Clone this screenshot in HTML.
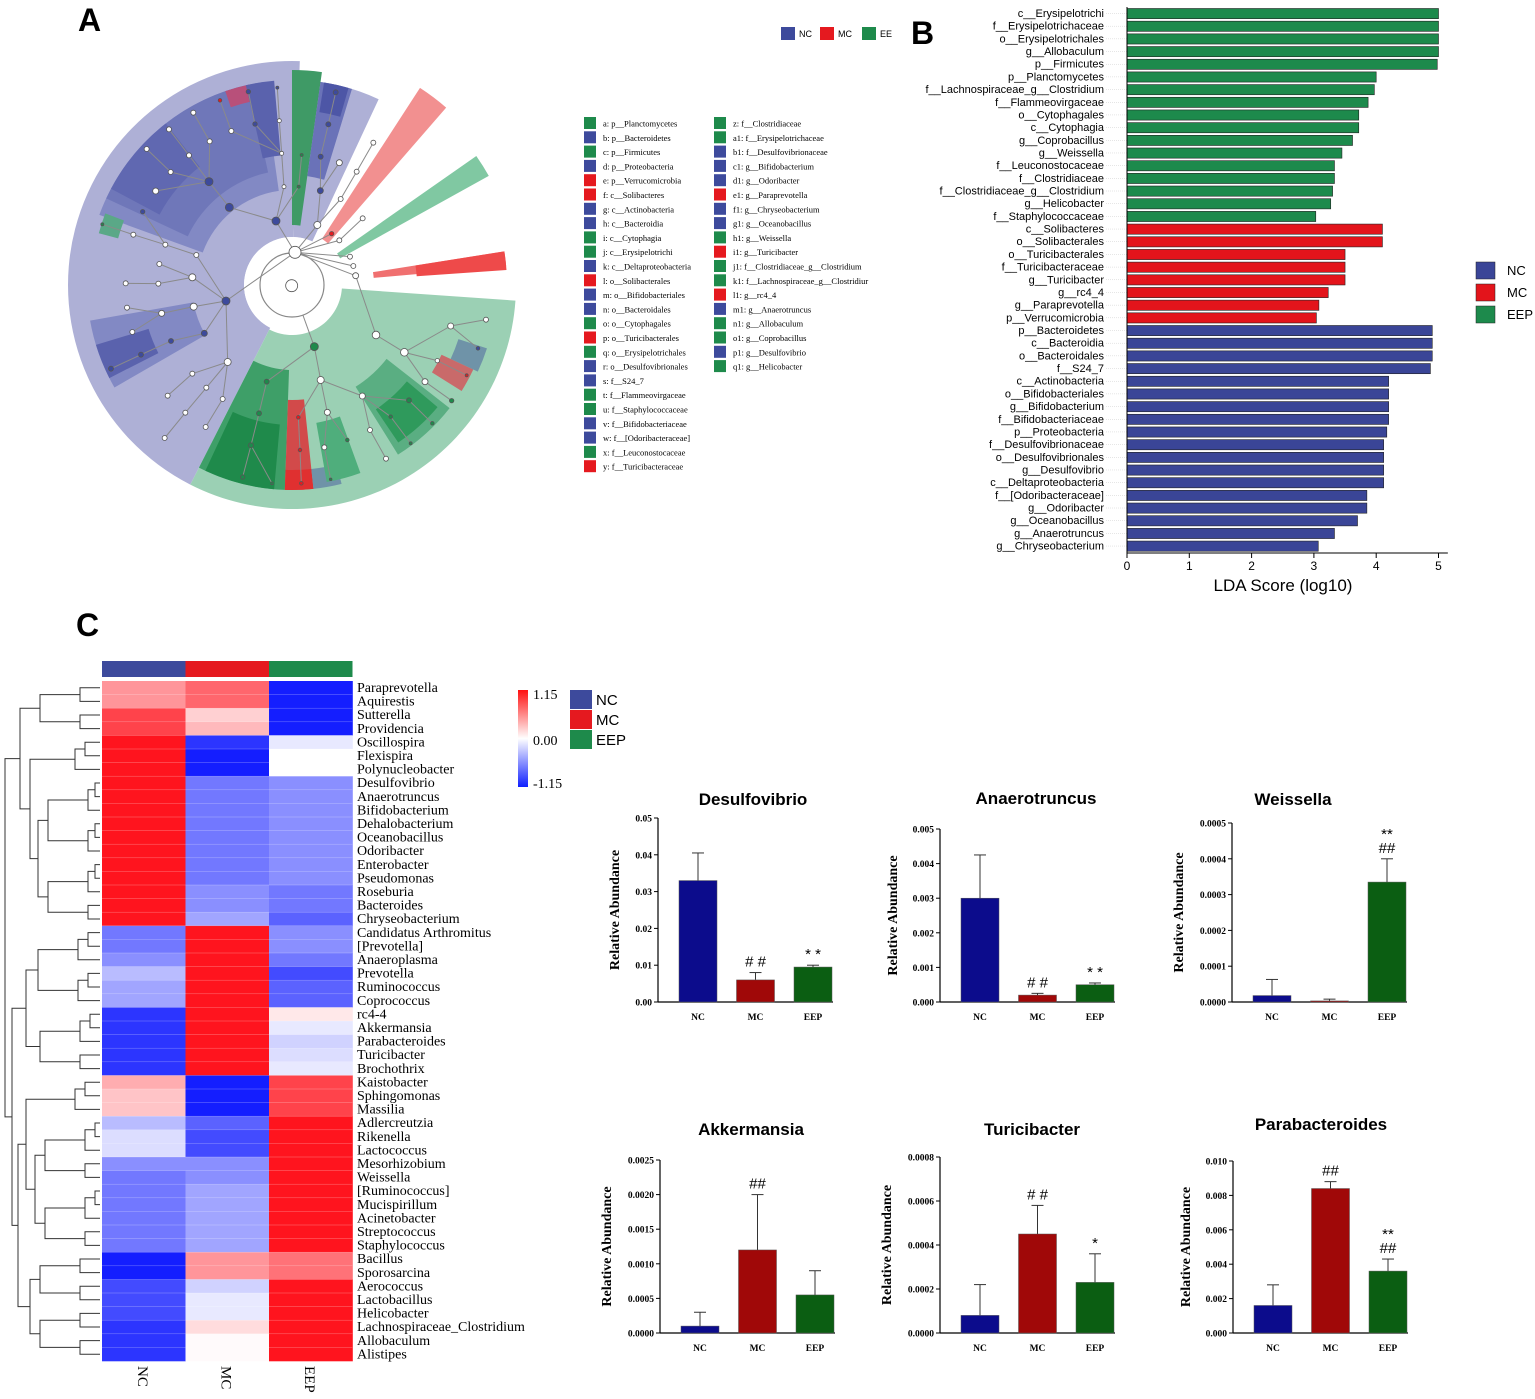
<!DOCTYPE html>
<html><head><meta charset="utf-8">
<style>
body{margin:0;background:#fff;}
svg{display:block;}
</style></head>
<body>
<svg id="fig" width="1535" height="1399" viewBox="0 0 1535 1399" xmlns="http://www.w3.org/2000/svg">
<rect width="1535" height="1399" fill="#fff"/>
<text x="78" y="31" font-family="Liberation Sans, sans-serif" font-size="32" font-weight="bold">A</text>
<text x="911" y="44" font-family="Liberation Sans, sans-serif" font-size="32" font-weight="bold">B</text>
<text x="76" y="636" font-family="Liberation Sans, sans-serif" font-size="32" font-weight="bold">C</text>
<g id="clado"></g>
<g id="cladoLegend"></g>
<g id="lda"></g>
<g id="heat"></g>
<g id="bars"></g>
</svg>
<script>
// ---------- DATA ----------
const ldaLabels = ["c__Erysipelotrichi","f__Erysipelotrichaceae","o__Erysipelotrichales","g__Allobaculum","p__Firmicutes","p__Planctomycetes","f__Lachnospiraceae_g__Clostridium","f__Flammeovirgaceae","o__Cytophagales","c__Cytophagia","g__Coprobacillus","g__Weissella","f__Leuconostocaceae","f__Clostridiaceae","f__Clostridiaceae_g__Clostridium","g__Helicobacter","f__Staphylococcaceae","c__Solibacteres","o__Solibacterales","o__Turicibacterales","f__Turicibacteraceae","g__Turicibacter","g__rc4_4","g__Paraprevotella","p__Verrucomicrobia","p__Bacteroidetes","c__Bacteroidia","o__Bacteroidales","f__S24_7","c__Actinobacteria","o__Bifidobacteriales","g__Bifidobacterium","f__Bifidobacteriaceae","p__Proteobacteria","f__Desulfovibrionaceae","o__Desulfovibrionales","g__Desulfovibrio","c__Deltaproteobacteria","f__[Odoribacteraceae]","g__Odoribacter","g__Oceanobacillus","g__Anaerotruncus","g__Chryseobacterium"];
const ldaScores = [5.0,5.0,5.0,5.0,4.98,4.0,3.97,3.87,3.72,3.72,3.62,3.45,3.33,3.33,3.3,3.27,3.03,4.1,4.1,3.5,3.5,3.5,3.23,3.08,3.04,4.9,4.9,4.9,4.87,4.2,4.2,4.2,4.2,4.17,4.12,4.12,4.12,4.12,3.85,3.85,3.7,3.33,3.07];
const ldaGroups = ["EEP","EEP","EEP","EEP","EEP","EEP","EEP","EEP","EEP","EEP","EEP","EEP","EEP","EEP","EEP","EEP","EEP","MC","MC","MC","MC","MC","MC","MC","MC","NC","NC","NC","NC","NC","NC","NC","NC","NC","NC","NC","NC","NC","NC","NC","NC","NC","NC"];
const ldaTicks = [0,1,2,3,4,5];

const heatRows = ["Paraprevotella","Aquirestis","Sutterella","Providencia","Oscillospira","Flexispira","Polynucleobacter","Desulfovibrio","Anaerotruncus","Bifidobacterium","Dehalobacterium","Oceanobacillus","Odoribacter","Enterobacter","Pseudomonas","Roseburia","Bacteroides","Chryseobacterium","Candidatus Arthromitus","[Prevotella]","Anaeroplasma","Prevotella","Ruminococcus","Coprococcus","rc4-4","Akkermansia","Parabacteroides","Turicibacter","Brochothrix","Kaistobacter","Sphingomonas","Massilia","Adlercreutzia","Rikenella","Lactococcus","Mesorhizobium","Weissella","[Ruminococcus]","Mucispirillum","Acinetobacter","Streptococcus","Staphylococcus","Bacillus","Sporosarcina","Aerococcus","Lactobacillus","Helicobacter","Lachnospiraceae_Clostridium","Allobaculum","Alistipes"];
const heatCols = ["NC","MC","EEP"];
const heatNC = [0.45,0.45,0.8,0.8,1,1,1,1,1,1,1,1,1,1,1,1,1,1,-0.6,-0.6,-0.5,-0.3,-0.4,-0.4,-0.9,-0.9,-0.9,-0.9,-0.9,0.35,0.25,0.25,-0.3,-0.15,-0.15,-0.5,-0.6,-0.6,-0.6,-0.6,-0.6,-0.6,-1,-1,-0.8,-0.8,-0.8,-0.9,-0.9,-0.9];
const heatMC = [0.65,0.65,0.2,0.3,-0.9,-1,-1,-0.6,-0.6,-0.6,-0.6,-0.6,-0.6,-0.6,-0.6,-0.5,-0.5,-0.4,1,1,1,1,1,1,1,1,1,1,1,-1,-1,-1,-0.7,-0.8,-0.8,-0.5,-0.5,-0.4,-0.4,-0.4,-0.4,-0.4,0.45,0.45,-0.2,-0.1,-0.1,0.15,0.02,0.02];
const heatEEP = [-1,-1,-1,-1,-0.1,0,0,-0.5,-0.5,-0.5,-0.5,-0.5,-0.5,-0.5,-0.5,-0.6,-0.6,-0.7,-0.5,-0.5,-0.6,-0.8,-0.7,-0.7,0.1,-0.1,-0.2,-0.15,-0.1,0.8,0.8,0.8,1,1,1,1,1,1,1,1,1,1,0.6,0.6,1,1,1,1,1,1];

const barGroups = ["NC","MC","EEP"];
const desulfoMean = [0.033,0.006,0.0095];
const desulfoErr = [0.0405,0.008,0.0100];
const desulfoTicks = ["0.00","0.01","0.02","0.03","0.04","0.05"];
const anaeroMean = [0.003,0.0002,0.0005];
const anaeroErr = [0.00425,0.00025,0.00055];
const anaeroTicks = ["0.000","0.001","0.002","0.003","0.004","0.005"];
const weissMean = [0.000018,0.000003,0.000335];
const weissErr = [0.000063,0.000008,0.0004];
const weissTicks = ["0.0000","0.0001","0.0002","0.0003","0.0004","0.0005"];
const akkerMean = [0.0001,0.0012,0.00055];
const akkerErr = [0.0003,0.002,0.0009];
const akkerTicks = ["0.0000","0.0005","0.0010","0.0015","0.0020","0.0025"];
const turiMean = [0.00008,0.00045,0.00023];
const turiErr = [0.00022,0.00058,0.00036];
const turiTicks = ["0.0000","0.0002","0.0004","0.0006","0.0008"];
const paraMean = [0.0016,0.0084,0.0036];
const paraErr = [0.0028,0.0088,0.0043];
const paraTicks = ["0.000","0.002","0.004","0.006","0.008","0.010"];

const legendLettersA = ["a: p__Planctomycetes","b: p__Bacteroidetes","c: p__Firmicutes","d: p__Proteobacteria","e: p__Verrucomicrobia","f: c__Solibacteres","g: c__Actinobacteria","h: c__Bacteroidia","i: c__Cytophagia","j: c__Erysipelotrichi","k: c__Deltaproteobacteria","l: o__Solibacterales","m: o__Bifidobacteriales","n: o__Bacteroidales","o: o__Cytophagales","p: o__Turicibacterales","q: o__Erysipelotrichales","r: o__Desulfovibrionales","s: f__S24_7","t: f__Flammeovirgaceae","u: f__Staphylococcaceae","v: f__Bifidobacteriaceae","w: f__[Odoribacteraceae]","x: f__Leuconostocaceae","y: f__Turicibacteraceae"];
const legendGroupsA = ["EEP","NC","EEP","NC","MC","MC","NC","NC","EEP","EEP","NC","MC","NC","NC","EEP","MC","EEP","NC","NC","EEP","EEP","NC","NC","EEP","MC"];
const legendLettersB = ["z: f__Clostridiaceae","a1: f__Erysipelotrichaceae","b1: f__Desulfovibrionaceae","c1: g__Bifidobacterium","d1: g__Odoribacter","e1: g__Paraprevotella","f1: g__Chryseobacterium","g1: g__Oceanobacillus","h1: g__Weissella","i1: g__Turicibacter","j1: f__Clostridiaceae_g__Clostridium","k1: f__Lachnospiraceae_g__Clostridiur","l1: g__rc4_4","m1: g__Anaerotruncus","n1: g__Allobaculum","o1: g__Coprobacillus","p1: g__Desulfovibrio","q1: g__Helicobacter"];
const legendGroupsB = ["EEP","EEP","NC","NC","NC","MC","NC","NC","EEP","MC","EEP","EEP","MC","NC","EEP","EEP","NC","EEP"];

// ---------- helpers ----------
const NS="http://www.w3.org/2000/svg";
function mk(parent, tag, attrs, text){
  const e=document.createElementNS(NS,tag);
  for(const k in attrs) e.setAttribute(k,attrs[k]);
  if(text!==undefined) e.textContent=text;
  parent.appendChild(e); return e;
}
const grpCol={NC:"#3d4a9c",MC:"#e5191f",EEP:"#1e8a4b"};

// ---------- Cladogram ----------
const clado=document.getElementById('clado');
const CX=292, CY=285;
function pol(r,a){const t=a*Math.PI/180;return [CX+r*Math.cos(t),CY+r*Math.sin(t)];}
function sector(r0,r1,a0,a1,fill,op,name){
  const p1=pol(r1,a0),p2=pol(r1,a1),p3=pol(r0,a1),p4=pol(r0,a0);
  const lg=(a1-a0)>180?1:0;
  const d=`M${p1[0]},${p1[1]} A${r1},${r1} 0 ${lg} 1 ${p2[0]},${p2[1]} L${p3[0]},${p3[1]} A${r0},${r0} 0 ${lg} 0 ${p4[0]},${p4[1]}Z`;
  const e=mk(clado,'path',{d:d,fill:fill,'fill-opacity':op});
  
  
}
sector(48,224,117,272,"#aeb0d6",1,"nc-clade-bg");
sector(48,205,272,295,"#aeb0d6",1,"nc-clade-bg-2");
sector(50,224,4,117,"#9bd0b4",1,"eep-clade-bg");
sector(95,205,200,262,"#8289c4",1,"nc-subclade");
sector(115,205,205,258,"#6f77b9",1,"nc-subclade-mid");
sector(150,205,208,232,"#6068b1",1,"nc-s-clade");
sector(188,205,251,258,"#b8507a",1,"mc-e1");
sector(130,205,257,265,"#5a62ad",1,"nc-w");
sector(60,215,270,278,"#3f9a66",1,"eep-f1");
sector(110,205,278,287,"#6a72b8",1,"nc-c1");
sector(175,205,279,286,"#4d56a6",1,"nc-c1-dark");
sector(180,200,195,201,"#5aa887",1,"eep-q1");
sector(100,205,150,170,"#8289c4",1,"nc-k");
sector(150,205,153,163,"#5a62ad",1,"nc-p1");
sector(55,235,-57,-49,"#f29090",1,"mc-e");
sector(55,225,-35,-29,"#80c8a2",1,"eep-a");
sector(82,215,-9,-5,"#f07070",1,"mc-f");
sector(125,215,-9,-4,"#ee4a4a",1,"mc-l");
sector(85,205,92,117,"#3e9f68",1,"eep-b");
sector(140,205,95,115,"#1f8a4b",1,"eep-n1");
sector(115,205,84,92,"#d24a4a",1,"mc-p");
sector(185,205,84,92,"#e03030",1,"mc-i1");
sector(185,205,76,84,"#6f93a8",1,"nc-g1");
sector(140,200,70,80,"#4fae7c",1,"eep-u");
sector(120,200,38,58,"#5aae82",1,"eep-z");
sector(150,190,40,56,"#2f9a5c",1,"eep-x");
sector(175,205,18,25,"#6f93a8",1,"nc-m1");
sector(165,200,25,32,"#c96a6a",1,"mc-l1");
mk(clado,'circle',{cx:CX,cy:CY,r:48,fill:"#fff"});
mk(clado,'circle',{cx:CX,cy:CY,r:32,fill:"none",stroke:"#888","stroke-width":1.2});
// nodes in original image coordinates (from 3x zoom: x=60+zx/3, y=40+zy/3)
const zNodes=[
 [695,737,6,"#fff"],[705,637,6,"#fff"],
 [648,543,4,"#3d4a9c"],[508,502,4,"#3d4a9c"],[447,425,4,"#3d4a9c"],[498,783,4,"#3d4a9c"],[763,920,4,"#1e8a4b"],
 [772,555,3.5,"#fff"],[948,885,3.8,"#fff"],[1033,937,3.8,"#fff"],[782,1020,3.5,"#fff"],[802,1117,3,"#fff"],[907,1068,3,"#fff"],[1095,1025,3,"#fff"],[1172,858,3,"#fff"],
 [397,712,3.5,"#fff"],[401,800,3.5,"#fff"],[503,966,3.5,"#fff"],[287,453,3,"#fff"],[332,396,2.5,"#fff"],[449,304,2.5,"#fff"],[514,273,2.5,"#fff"],[387,346,2.5,"#fff"],[327,268,2.5,"#fff"],[260,327,2.5,"#fff"],[400,218,2.5,"#fff"],
 [305,820,3,"#fff"],[295,731,2.5,"#fff"],[298,672,2.5,"#fff"],[220,584,2.5,"#fff"],[316,614,2.5,"#fff"],[409,645,2.5,"#fff"],[197,730,2.5,"#fff"],[201,803,2.5,"#fff"],[217,876,2.5,"#fff"],
 [397,1001,2.5,"#fff"],[439,1043,2.5,"#fff"],[488,1077,2.5,"#fff"],[323,1067,2.5,"#fff"],[376,1118,2.5,"#fff"],[437,1161,2.5,"#fff"],[314,1194,2.5,"#fff"],
 [842,477,2.5,"#fff"],[890,395,2.5,"#fff"],[940,308,2.5,"#fff"],[838,368,3,"#fff"],[908,535,2.5,"#fff"],[838,601,2.5,"#fff"],[870,650,2.5,"#fff"],[880,678,2.5,"#fff"],[887,707,3,"#fff"],
 [672,440,2,"#fff"],[665,340,2,"#fff"],[658,242,2,"#fff"],[1132,962,2.2,"#fff"],[1278,839,2.5,"#fff"],[930,1170,2.5,"#fff"],[978,1256,2.5,"#fff"],[793,1222,2.5,"#fff"],
 [433,880,3,"#3d4a9c"],[333,903,2.5,"#3d4a9c"],[243,944,2.5,"#3d4a9c"],[153,986,2.5,"#3d4a9c"],[248,515,2.2,"#3d4a9c"],[565,155,2.2,"#3d4a9c"],[585,252,2.2,"#3d4a9c"],[827,157,2.5,"#3d4a9c"],[805,253,2.5,"#3d4a9c"],[782,350,2.5,"#3d4a9c"],[781,452,3,"#3d4a9c"],[652,143,1.5,"#3d4a9c"],[1254,925,1.8,"#3d4a9c"],
 [620,1025,2.5,"#1e8a4b"],[597,1120,2.5,"#1e8a4b"],[573,1216,2.5,"#1e8a4b"],[548,1311,2.2,"#1e8a4b"],[725,345,1.5,"#1e8a4b"],[716,440,1.5,"#1e8a4b"],[862,1200,1.8,"#1e8a4b"],[1047,1081,2.5,"#1e8a4b"],[1175,1082,2.2,"#1e8a4b"],[1117,1150,1.8,"#1e8a4b"],[992,1130,1.8,"#1e8a4b"],[1052,1210,1.5,"#1e8a4b"],[127,553,1.5,"#1e8a4b"],[636,1330,1.3,"#1e8a4b"],[812,1318,1.3,"#1e8a4b"],
 [715,1132,1.8,"#e5191f"],[720,1230,1.8,"#e5191f"],[724,1330,1.8,"#e5191f"],[480,181,1.8,"#e5191f"],[815,581,2.2,"#e5191f"],[1220,1006,1.5,"#e5191f"]
];
const nodes=zNodes.map(n=>({x:60+n[0]/3,y:40+n[1]/3,r:n[2],c:n[3]}));
nodes.forEach(n=>{n.rad=Math.hypot(n.x-CX,n.y-CY);n.ang=Math.atan2(n.y-CY,n.x-CX);});
nodes.forEach((n,i)=>{
  if(i===0) return;
  // parent: nearest node with smaller radius
  let best=null,bd=1e9;
  nodes.forEach((m,j)=>{ if(j===i||m.rad>=n.rad-8||j===0) return;
    const d=Math.hypot(m.x-n.x,m.y-n.y); if(d<bd){bd=d;best=m;} });
  let d;
  if(!best||bd>95){const p=pol(32,n.ang*180/Math.PI);d=`M${n.x},${n.y}L${p[0]},${p[1]}`;}
  else d=`M${n.x},${n.y}L${best.x},${best.y}`;
  const l=mk(clado,'path',{d:d,stroke:"#8a8a8a","stroke-width":1,fill:"none"});
  
  
});
nodes.forEach(n=>{
  const c=mk(clado,'circle',{cx:n.x,cy:n.y,r:n.r,fill:n.c,stroke:"#555","stroke-width":0.8});
  
  
});
// top legend A
[["NC",781],["MC",820],["EE",862]].forEach(d=>{
  const r=mk(clado,'rect',{x:d[1],y:27,width:14,height:13,fill:grpCol[d[0]==="EE"?"EEP":d[0]]});
  
  
  const t=mk(clado,'text',{x:d[1]+18,y:37,'font-family':'Liberation Sans, sans-serif','font-size':9},d[0]);
  
  
});
// letter legend
const cl=document.getElementById('cladoLegend');
function legCol(labels,groups,x0){
  labels.forEach((lab,i)=>{
    const y=117+i*14.3;
    const r=mk(cl,'rect',{x:x0,y:y,width:12,height:12,fill:grpCol[groups[i]]});
    
    
    const t=mk(cl,'text',{x:x0+19,y:y+9.5,'font-family':'Liberation Serif, serif','font-size':8.5},lab);
    
    
  });
}
legCol(legendLettersA,legendGroupsA,584);
legCol(legendLettersB,legendGroupsB,714);

// ---------- LDA ----------
const lda=document.getElementById('lda');
const lx0=1127, lpx=62.3, ly0=7, lrow=12.68;
const ldaX=v=>lx0+v*lpx;
const ldaColor={NC:"#3a4597",MC:"#e3141b",EEP:"#1d8a4c"};
ldaLabels.forEach((lab,i)=>{
  const y=ly0+i*lrow;
  const b=mk(lda,'rect',{x:ldaX(0),y:y+1.5,width:ldaX(ldaScores[i])-ldaX(0),height:lrow-2.5,fill:ldaColor[ldaGroups[i]],stroke:"#222","stroke-width":0.6});
  
  
  const t=mk(lda,'text',{x:1104,y:y+10,'text-anchor':'end','font-family':'Liberation Sans, sans-serif','font-size':11},lab);
  
  
  mk(lda,'line',{x1:1106,x2:1127,y1:y+6.5,y2:y+6.5,stroke:"#ccc","stroke-width":0.5,'stroke-dasharray':'1,1'});
});
mk(lda,'line',{x1:lx0,x2:lx0,y1:7,y2:553,stroke:"#000","stroke-width":1});
mk(lda,'line',{x1:lx0,x2:ldaX(5.15),y1:553,y2:553,stroke:"#000","stroke-width":1});
ldaTicks.forEach(v=>{
  mk(lda,'line',{x1:ldaX(v),x2:ldaX(v),y1:553,y2:558,stroke:"#000"});
  const t=mk(lda,'text',{x:ldaX(v),y:570,'text-anchor':'middle','font-family':'Liberation Sans, sans-serif','font-size':12},String(v));
  
  
});
{const t=mk(lda,'text',{x:1283,y:591,'text-anchor':'middle','font-family':'Liberation Sans, sans-serif','font-size':17},"LDA Score (log10)");
}
[["NC",262],["MC",284],["EEP",306]].forEach(d=>{
  const r=mk(lda,'rect',{x:1476,y:d[1],width:19,height:17,fill:ldaColor[d[0]],stroke:"#222","stroke-width":0.5});
  
  
  const t=mk(lda,'text',{x:1507,y:d[1]+13,'font-family':'Liberation Sans, sans-serif','font-size':13},d[0]);
  
  
});

// ---------- Heatmap ----------
const heat=document.getElementById('heat');
const hx0=102, hcw=83.5, hy0=681, hrh=13.6;
function hcolor(v){
  v=Math.max(-1,Math.min(1,v));
  if(v>=0){const k=v;return `rgb(${255},${Math.round(255-(255-20)*k)},${Math.round(255-(255-30)*k)})`;}
  const k=-v;return `rgb(${Math.round(255-(255-20)*k)},${Math.round(255-(255-30)*k)},255)`;
}
const heatData=[heatNC,heatMC,heatEEP];
const colBar=["#3d4a9c","#e5191f","#1e8a4b"];
heatCols.forEach((c,j)=>{
  const r=mk(heat,'rect',{x:hx0+j*hcw,y:661,width:hcw,height:16,fill:colBar[j]});
  
  
  const t=mk(heat,'text',{x:0,y:0,transform:`translate(${hx0+j*hcw+hcw/2-6},1366) rotate(90)`,'font-family':'Liberation Serif, serif','font-size':15},c);
  
  
});
heatRows.forEach((name,i)=>{
  const y=hy0+i*hrh;
  heatData.forEach((arr,j)=>{
    const r=mk(heat,'rect',{x:hx0+j*hcw,y:y,width:hcw+0.3,height:hrh+0.3,fill:hcolor(arr[i])});
    
    
  });
  const t=mk(heat,'text',{x:357,y:y+11,'font-family':'Liberation Serif, serif','font-size':14},name);
  
  
});
for(let i=1;i<heatRows.length;i++) mk(heat,'line',{x1:hx0,x2:hx0+3*hcw,y1:hy0+i*hrh,y2:hy0+i*hrh,stroke:"#fff","stroke-width":0.4,'stroke-opacity':0.5});
// dendrogram
const leafY=i=>hy0+i*hrh+hrh/2;
function leaf(i){return {x:100,y:leafY(i)};}
function join(a,b,x){
  const p=mk(heat,'path',{d:`M${a.x},${a.y}H${x}V${b.y}H${b.x}`,fill:"none",stroke:"#333","stroke-width":1});
  
  
  return {x:x,y:(a.y+b.y)/2};
}
function pair(s,e,x){
  if(s===e) return leaf(s);
  const m=Math.floor((s+e)/2);
  const a=pair(s,m,x+10), b=pair(m+1,e,x+10);
  return join(a,b,Math.min(x+ (e-s<3?30:0),95));
}
const g1=pair(0,3,40), g2=pair(4,6,45), g3=pair(7,17,38), g4=pair(18,23,38), g5=pair(24,28,40), g6=pair(29,31,45), g7=pair(32,41,35), g8=pair(42,49,30);
const n23=join(g2,g3,30), n1=join(g1,n23,20);
const n45=join(g4,g5,26), n67=join(g6,g7,26), n678=join(n67,g8,18), nb=join(n45,n678,12);
join(n1,nb,5);
// colorbar
const defs=mk(heat,'defs',{});
const lg=mk(defs,'linearGradient',{id:'cb',x1:0,y1:0,x2:0,y2:1});
mk(lg,'stop',{offset:'0','stop-color':'#ff1010'});
mk(lg,'stop',{offset:'0.5','stop-color':'#ffffff'});
mk(lg,'stop',{offset:'1','stop-color':'#1020ff'});
{const r=mk(heat,'rect',{x:518,y:690,width:10,height:97,fill:'url(#cb)'});}
[["1.15",699],["0.00",745],["-1.15",788]].forEach(d=>{
  const t=mk(heat,'text',{x:533,y:d[1],'font-family':'Liberation Serif, serif','font-size':14},d[0]);
  
});
[["NC",690],["MC",710],["EEP",730]].forEach((d,j)=>{
  const r=mk(heat,'rect',{x:570,y:d[1],width:22,height:19,fill:colBar[j]});
  
  const t=mk(heat,'text',{x:596,y:d[1]+15,'font-family':'Liberation Sans, sans-serif','font-size':15},d[0]);
  
});

// ---------- small bar charts ----------
const bars=document.getElementById('bars');
const barFill=["#0c0c8c","#a00808","#0b5e12"];
function barChart(o){
  const g=mk(bars,'g',{});
  
  
  const ymax=o.max, yS=v=>o.y0-(v/ymax)*(o.y0-o.yTop);
  const t=mk(g,'text',{x:o.tx,y:o.ty,'text-anchor':'middle','font-family':'Liberation Sans, sans-serif','font-size':17,'font-weight':'bold'},o.title);
  
  mk(g,'line',{x1:o.ax,x2:o.ax,y1:o.yTop,y2:o.y0,stroke:"#000","stroke-width":1.2});
  mk(g,'line',{x1:o.ax,x2:o.ax+175,y1:o.y0,y2:o.y0,stroke:"#000","stroke-width":1.2});
  o.ticks.forEach((lab,i)=>{
    const y=o.y0-i*(o.y0-o.yTop)/(o.ticks.length-1);
    mk(g,'line',{x1:o.ax-4,x2:o.ax,y1:y,y2:y,stroke:"#000"});
    const tt=mk(g,'text',{x:o.ax-6,y:y+3.5,'text-anchor':'end','font-family':'Liberation Serif, serif','font-size':9.5,'font-weight':'bold'},lab);
    
  });
  const yl=mk(g,'text',{x:0,y:0,transform:`translate(${o.ylx},${(o.y0+o.yTop)/2}) rotate(-90)`,'text-anchor':'middle','font-family':'Liberation Serif, serif','font-size':14,'font-weight':'bold'},"Relative Abundance");
  
  barGroups.forEach((gname,i)=>{
    const cx=o.ax+40+i*57.5;
    const top=yS(o.mean[i]), et=yS(o.err[i]);
    mk(g,'line',{x1:cx,x2:cx,y1:top,y2:et,stroke:"#333","stroke-width":1});
    mk(g,'line',{x1:cx-6,x2:cx+6,y1:et,y2:et,stroke:"#333","stroke-width":1});
    const b=mk(g,'rect',{x:cx-19,y:top,width:38,height:o.y0-top,fill:barFill[i],stroke:"#555","stroke-width":0.5});
    
    const xl=mk(g,'text',{x:cx,y:o.y0+18,'text-anchor':'middle','font-family':'Liberation Serif, serif','font-size':9.5,'font-weight':'bold'},gname);
    
    (o.ann[i]||[]).forEach((a,k)=>{
      const at=mk(g,'text',{x:cx,y:et-6-k*14,'text-anchor':'middle','font-family':'Liberation Sans, sans-serif','font-size':15},a);
      
    });
  });
}
barChart({name:'desulfovibrio-chart',title:'Desulfovibrio',tx:753,ty:805,ax:658,y0:1002,yTop:818,max:0.05,mean:desulfoMean,err:desulfoErr,ticks:desulfoTicks,ylx:619,ann:[[],["# #"],["* *"]]});
barChart({name:'anaerotruncus-chart',title:'Anaerotruncus',tx:1036,ty:804,ax:940,y0:1002,yTop:829,max:0.005,mean:anaeroMean,err:anaeroErr,ticks:anaeroTicks,ylx:897,ann:[[],["# #"],["*   *"]]});
barChart({name:'weissella-chart',title:'Weissella',tx:1293,ty:805,ax:1232,y0:1002,yTop:823,max:0.0005,mean:weissMean,err:weissErr,ticks:weissTicks,ylx:1183,ann:[[],[],["##","**"]]});
barChart({name:'akkermansia-chart',title:'Akkermansia',tx:751,ty:1135,ax:660,y0:1333,yTop:1160,max:0.0025,mean:akkerMean,err:akkerErr,ticks:akkerTicks,ylx:611,ann:[[],["##"],[]]});
barChart({name:'turicibacter-chart',title:'Turicibacter',tx:1032,ty:1135,ax:940,y0:1333,yTop:1157,max:0.0008,mean:turiMean,err:turiErr,ticks:turiTicks,ylx:891,ann:[[],["# #"],["*"]]});
barChart({name:'parabacteroides-chart',title:'Parabacteroides',tx:1321,ty:1130,ax:1233,y0:1333,yTop:1161,max:0.010,mean:paraMean,err:paraErr,ticks:paraTicks,ylx:1190,ann:[[],["##"],["##","**"]]});
</script>
</body></html>
